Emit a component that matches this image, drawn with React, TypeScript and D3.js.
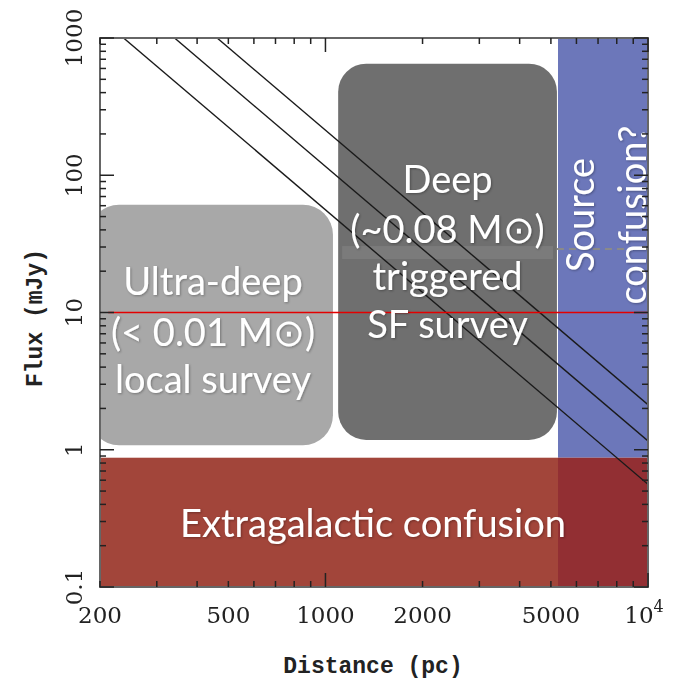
import React from 'react';
import * as d3 from 'd3';

// axis ranges
const distanceDomain = [200, 10000];
const fluxDomain = [0.1, 1000];
const distanceLabels = [200, 500, 1000, 2000, 5000, 10000];
const fluxLabels = [0.1, 1, 10, 100, 1000];

// survey regions (distance in pc, flux in mJy)
const ultraDeepBox = { d0: 185, d1: 1055, f0: 1.08, f1: 61 };
const deepBox = { d0: 1095, d1: 5220, f0: 1.18, f1: 650 };
const sourceConfusionMinDist = 5260;
const extragalacticMaxFlux = 0.875;
const deepCutFlux = 29;
const redLineFlux = 10;
const redLineStart = 212;

// detection limits: flux at 1 kpc, falling as d^-2
const limitFluxAt1kpc = [56, 116, 213];

const W = 679;
const H = 681;
const margin = { left: 100, right: 31, top: 38, bottom: 94 };

const sansFont = 'Lato, "Open Sans", sans-serif';
const tickFont = '"DejaVu Serif", serif';
const titleFont = '"Liberation Mono", "DejaVu Sans Mono", monospace';

export default function App() {
  const x = d3.scaleLog().domain(distanceDomain).range([margin.left, W - margin.right]);
  const y = d3.scaleLog().domain(fluxDomain).range([H - margin.bottom, margin.top]);
  const [x0, x1] = x.range();
  const [yb, yt] = y.range();

  const box = (b: { d0: number; d1: number; f0: number; f1: number }) => ({
    x: x(b.d0),
    y: y(b.f1),
    w: x(b.d1) - x(b.d0),
    h: y(b.f0) - y(b.f1),
  });
  const ub = box(ultraDeepBox);
  const db = box(deepBox);
  const scX = x(sourceConfusionMinDist);
  const egY = y(extragalacticMaxFlux);

  const xTicks = x.ticks();
  const yTicks = y.ticks();
  const isMajor = (v: number) => Math.abs(Math.log10(v) - Math.round(Math.log10(v))) < 1e-6;

  const lines = limitFluxAt1kpc.map((f1k) => {
    // from the top edge to the right edge
    const dTop = 1000 * Math.sqrt(f1k / fluxDomain[1]);
    const fRight = f1k * Math.pow(1000 / distanceDomain[1], 2);
    return [
      [x(dTop), y(fluxDomain[1])],
      [x(distanceDomain[1]), y(fRight)],
    ];
  });

  const ucx = ub.x + ub.w / 2 + 2;
  const dcx = db.x + db.w / 2;
  const scCenterY = 215;

  return (
    <svg width={W} height={H} style={{ position: 'absolute', left: 0, top: 0, background: '#fff' }}>
      <defs>
        <clipPath id="plot">
          <rect x={x0} y={yt} width={x1 - x0} height={yb - yt} />
        </clipPath>
        <filter id="glow" x="-10%" y="-10%" width="120%" height="120%">
          <feGaussianBlur in="SourceAlpha" stdDeviation="1.2" />
          <feOffset dx="0.5" dy="0.8" result="b" />
          <feFlood floodColor="#000" floodOpacity="0.3" />
          <feComposite in2="b" operator="in" />
          <feMerge>
            <feMergeNode />
            <feMergeNode in="SourceGraphic" />
          </feMerge>
        </filter>
      </defs>

      <g clipPath="url(#plot)">
        {/* source confusion */}
        <rect x={scX} y={yt} width={x1 - scX} height={egY - yt} fill="#6c77ba" />
        {/* extragalactic confusion */}
        <rect x={x0} y={egY} width={scX - x0} height={yb - egY} fill="#a2453a" />
        <rect x={scX} y={egY} width={x1 - scX} height={yb - egY} fill="#922f33" />

        <rect x={ub.x} y={ub.y} width={ub.w} height={ub.h} rx={30} fill="#a8a8a8" />
        <rect x={db.x} y={db.y} width={db.w} height={db.h} rx={28} fill="#6f6f6f" />
        <rect x={db.x + 4} y={y(deepCutFlux) - 3} width={db.w - 8} height={13} fill="#7b7b7b" />
        <line x1={db.x + db.w} x2={x1} y1={y(deepCutFlux)} y2={y(deepCutFlux)}
          stroke="#8a8a8a" strokeWidth={2} strokeDasharray="7,5" />

        {lines.map((l, i) => (
          <line key={i} x1={l[0][0]} y1={l[0][1]} x2={l[1][0]} y2={l[1][1]} stroke="#1a1a1a" strokeWidth={1.4} />
        ))}

        <line x1={x(redLineStart)} x2={x1} y1={y(redLineFlux)} y2={y(redLineFlux)} stroke="#e30000" strokeWidth={1.6} />

        {/* annotations */}
        <g fill="#fff" fontFamily={sansFont} fontSize={38} textAnchor="middle" filter="url(#glow)">
          <text x={ucx} y={295}>Ultra-deep</text>
          <text x={ucx} y={346}>(&lt; 0.01 M⊙)</text>
          <text x={ucx} y={393}>local survey</text>
          <text x={dcx} y={193}>Deep</text>
          <text x={dcx} y={243}>(~0.08 M⊙)</text>
          <text x={dcx} y={290}>triggered</text>
          <text x={dcx} y={338}>SF survey</text>
          <text transform={`translate(${scX + 36},${scCenterY}) rotate(-90)`}>Source</text>
          <text transform={`translate(${scX + 88},${scCenterY}) rotate(-90)`}>confusion?</text>
          <text x={373} y={537}>Extragalactic confusion</text>
        </g>
      </g>

      {/* frame and ticks */}
      <g fill="none">
        <rect x={x0} y={yt} width={x1 - x0} height={yb - yt} strokeWidth={2} stroke="#666" />
        {xTicks.map((t, i) => {
          const len = isMajor(t) ? 14 : 6;
          return (
            <g key={i}>
              <line x1={x(t)} x2={x(t)} y1={yb} y2={yb - len} strokeWidth={1.5} stroke="#222" />
              <line x1={x(t)} x2={x(t)} y1={yt} y2={yt + len} strokeWidth={1.5} stroke="#222" />
            </g>
          );
        })}
        {yTicks.map((t, i) => {
          const len = isMajor(t) ? 14 : 6;
          return (
            <g key={i}>
              <line y1={y(t)} y2={y(t)} x1={x0} x2={x0 + len} strokeWidth={1.5} stroke="#222" />
              <line y1={y(t)} y2={y(t)} x1={x1} x2={x1 - len} strokeWidth={1.5} stroke="#222" />
            </g>
          );
        })}
      </g>

      {/* tick labels */}
      <g fontFamily={tickFont} fontSize={23} fill="#222" textAnchor="middle">
        {distanceLabels.map((d) => (
          <text key={d} x={x(d) + (d === 10000 ? -4 : 0)} y={623}>
            {d === 10000 ? (
              <>
                10<tspan dy={-11} fontSize={16}>4</tspan>
              </>
            ) : (
              d
            )}
          </text>
        ))}
        {fluxLabels.map((f) => (
          <text key={f} transform={`translate(82,${y(f)}) rotate(-90)`}>{f}</text>
        ))}
      </g>

      <g fontFamily={titleFont} fontSize={23} fontWeight="bold" fill="#222" textAnchor="middle">
        <text x={373} y={673}>Distance (pc)</text>
        <text transform={`translate(42,318) rotate(-90)`}>Flux (mJy)</text>
      </g>
    </svg>
  );
}
